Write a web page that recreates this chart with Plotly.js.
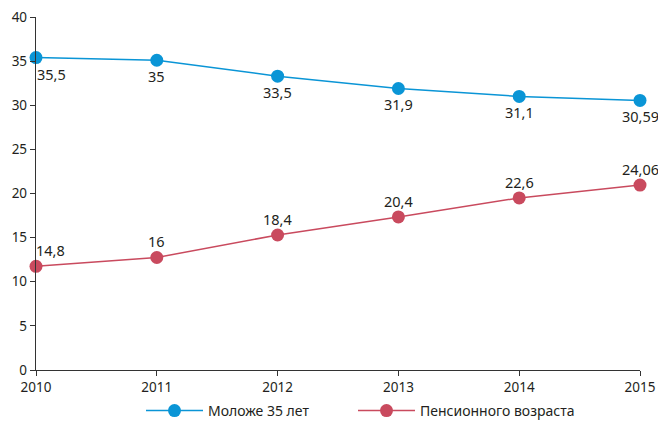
<!DOCTYPE html>
<html>
<head>
<meta charset="utf-8">
<script src="https://cdn.plot.ly/plotly-3.0.1.min.js"></script>
<style>html,body{margin:0;padding:0;background:#fff;}#chart{width:658px;height:427px;}</style>
</head>
<body>
<div id="chart"></div>
<script>
const years = [2010, 2011, 2012, 2013, 2014, 2015];
const youngValues = [35.4, 35.1, 33.3, 31.9, 31.0, 30.55];
const youngLabels = ["35,5", "35", "33,5", "31,9", "31,1", "30,59"];
const pensionValues = [11.75, 12.75, 15.3, 17.35, 19.5, 20.95];
const pensionLabels = ["14,8", "16", "18,4", "20,4", "22,6", "24,06"];
const seriesNames = ["Моложе 35 лет", "Пенсионного возраста"];
const yTicks = [0, 5, 10, 15, 20, 25, 30, 35, 40];

const blue = "#0a95d6";
const red = "#c94a5e";
const txt = "#231f20";
const font = "Noto Sans, sans-serif";

const traces = [
  {x: years, y: youngValues, name: seriesNames[0], mode: "lines+markers", legend: "legend",
   line: {color: blue, width: 1.5}, marker: {color: blue, size: 13}, cliponaxis: false},
  {x: years, y: pensionValues, name: seriesNames[1], mode: "lines+markers", legend: "legend2",
   line: {color: red, width: 1.5}, marker: {color: red, size: 13}, cliponaxis: false}
];

const annotations = [];
years.forEach((yr, i) => {
  annotations.push({x: yr, y: youngValues[i], text: youngLabels[i], showarrow: false,
    xanchor: "center", yanchor: "middle", yshift: -16, xshift: i === 0 ? 15 : 0,
    font: {family: font, size: 14.5, color: txt}});
  annotations.push({x: yr, y: pensionValues[i], text: pensionLabels[i], showarrow: false,
    xanchor: "center", yanchor: "middle", yshift: 16, xshift: i === 0 ? 14 : 0,
    font: {family: font, size: 14.5, color: txt}});
});

const legendBase = {orientation: "h", xanchor: "left", y: 0, yanchor: "bottom",
  font: {family: font, size: 14, color: txt}, itemwidth: 57, bgcolor: "rgba(0,0,0,0)"};

// paper area: top 17, bottom margin 0 -> height 410; plot bottom at y=370
const layout = {
  width: 658, height: 427,
  margin: {l: 36, r: 18, t: 17, b: 0},
  paper_bgcolor: "#fff", plot_bgcolor: "#fff",
  font: {family: font, size: 13.5, color: txt},
  showlegend: true,
  legend: Object.assign({}, legendBase, {x: (141 - 36) / 604}),
  legend2: Object.assign({}, legendBase, {x: (353 - 36) / 604}),
  xaxis: {range: [2010, 2015], tickvals: years, ticktext: years.map(String),
    showgrid: false, zeroline: false, showline: true, linecolor: "#333", linewidth: 1.2,
    ticks: "outside", ticklen: 5, tickcolor: "#333", tickfont: {family: font, size: 13.5, color: txt}},
  yaxis: {range: [0, 40], domain: [57 / 410, 1], tickvals: yTicks, showgrid: false, zeroline: false,
    showline: true, linecolor: "#333", linewidth: 1.2, ticks: "outside", ticklen: 5,
    tickcolor: "#333", tickfont: {family: font, size: 13.5, color: txt}},
  annotations: annotations
};

Plotly.newPlot("chart", traces, layout, {displayModeBar: false, staticPlot: true});
</script>
</body>
</html>
